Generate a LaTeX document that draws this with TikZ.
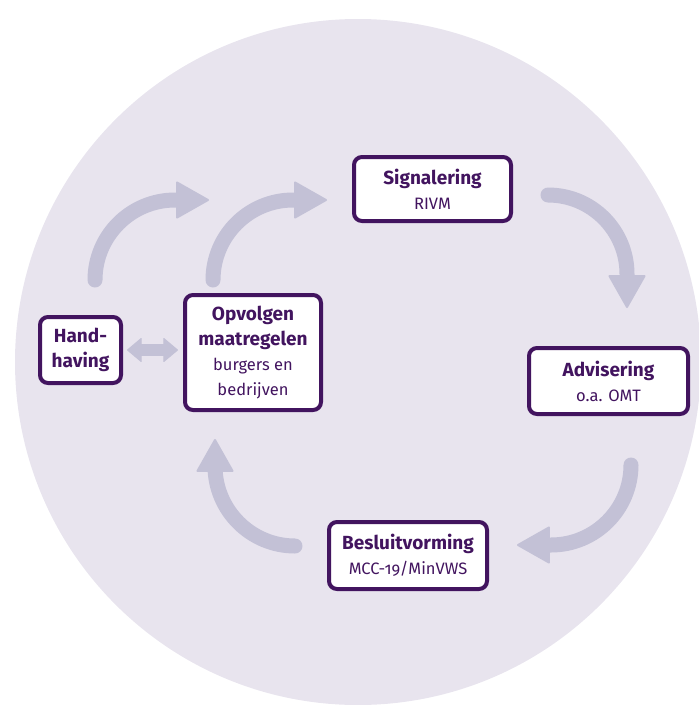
\documentclass[tikz,border=0pt]{standalone}
\usepackage{fontspec}
\setmainfont{Fira Sans}[Numbers=OldStyle]
\usetikzlibrary{arrows.meta}
\definecolor{bgc}{HTML}{E8E4EE}
\definecolor{arrc}{HTML}{C3C1D6}
\definecolor{purp}{HTML}{42145F}
\newcommand{\ttlf}{\fontsize{19}{25}\selectfont\bfseries}
\newcommand{\subf}{\fontsize{16.5}{24}\selectfont\mdseries}
\tikzset{
  box/.style={draw=purp, line width=4pt, fill=white, rounded corners=8pt,
    inner sep=0pt, align=center, text=purp, font=\ttlf},
  flow/.style={draw=arrc, line width=15pt, line cap=round,
    -{Triangle[length=34pt, width=38pt, line width=2pt, round]}},
  dbl/.style={draw=arrc, line width=12pt,
    {Triangle[length=15pt, width=25pt, line width=1pt, round]}-{Triangle[length=15pt, width=25pt, line width=1pt, round]}}
}
\begin{document}
\begin{tikzpicture}[x=1pt,y=-1pt]
\clip (0,0) rectangle (699,705);
\fill[bgc] (358,362) circle[radius=343pt];

% curved flow arrows
\coordinate (a1) at (95,280);
\coordinate (a2) at (213,280);
\coordinate (a3) at (548,195);
\coordinate (a4) at (631,465);
\coordinate (a5) at (295,546);
\draw[flow] (a1) arc[start angle=180, end angle=270, radius=80] -- (209,200);
\draw[flow] (a2) arc[start angle=180, end angle=270, radius=80] -- (327,200);
\draw[flow] (a3) arc[start angle=270, end angle=360, radius=79] -- (627,308);
\draw[flow] (a4) arc[start angle=0, end angle=90, radius=80] -- (517,545);
\draw[flow] (a5) arc[start angle=90, end angle=180, radius=80] -- (215,439);

% boxes
\node[box, minimum width=81pt, minimum height=66pt] (hand) at (80.5,350)
  {Hand-\\having};
\node[box, minimum width=136pt, minimum height=115pt] (opv) at (253,352.5)
  {Opvolgen\\maatregelen\\\subf burgers en\\\subf bedrijven};
\node[box, minimum width=157pt, minimum height=64pt] (sig) at (432.5,189)
  {Signalering\\\subf RIVM};
\node[box, minimum width=159pt, minimum height=66pt] (adv) at (608.5,381)
  {Advisering\\\subf o.a. OMT};
\node[box, minimum width=158pt, minimum height=67pt] (bes) at (408,555.5)
  {Besluitvorming\\\subf MCC-19/MinVWS};

\draw[dbl, shorten <=4pt, shorten >=5pt] (hand.east) -- (hand.east -| opv.west);
\end{tikzpicture}
\end{document}
